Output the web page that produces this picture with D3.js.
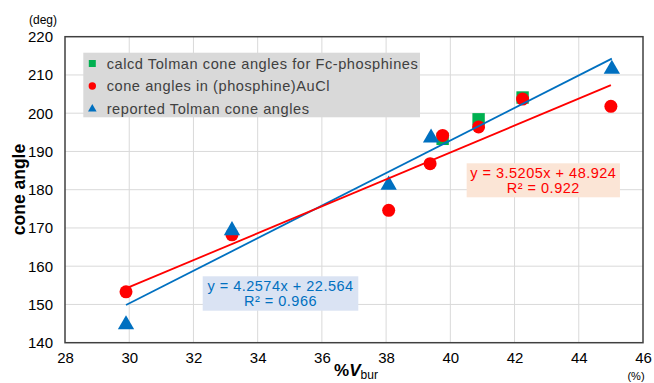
<!DOCTYPE html>
<html>
<head>
<meta charset="utf-8">
<script src="https://cdn.jsdelivr.net/npm/d3@7"></script>
<style>
  html, body { margin: 0; padding: 0; background: #fff; }
  svg { display: block; font-family: "Liberation Sans", Arial, sans-serif; }
</style>
</head>
<body>
<svg id="chart" width="654" height="383"></svg>
<script>
// ---- data ----
const xTicks = [28, 30, 32, 34, 36, 38, 40, 42, 44, 46];
const yTicks = [140, 150, 160, 170, 180, 190, 200, 210, 220];

const seriesNames = [
  "calcd Tolman cone angles for Fc-phosphines",
  "cone angles in (phosphine)AuCl",
  "reported Tolman cone angles"
];

const calcdX = [39.76, 40.88, 42.25];
const calcdY = [193.3, 198.4, 204.1];

const auclX = [29.9, 33.2, 38.08, 39.37, 39.76, 40.88, 42.25, 45.0];
const auclY = [153.3, 168.2, 174.6, 186.8, 194.2, 196.4, 203.7, 201.8];

const tolmanX = [29.9, 33.2, 38.08, 39.4, 45.03];
const tolmanY = [145.0, 169.6, 181.5, 193.8, 211.8];

const redFitLabel = ["y = 3.5205x + 48.924", "R\u00B2 = 0.922"];
const blueFitLabel = ["y = 4.2574x + 22.564", "R\u00B2 = 0.966"];
const redFitCoef = [3.5205, 48.924];
const blueFitCoef = [4.2574, 22.564];

// ---- layout ----
const svg = d3.select("#chart");
const L = 65, R = 643, T = 36.7, B = 342.7;
const x = d3.scaleLinear().domain([28, 46]).range([L, R]);
const y = d3.scaleLinear().domain([140, 220]).range([B, T]);

const COL_GREEN = "#00B050", COL_RED = "#FF0000", COL_BLUE = "#0070C0";

// gridlines
svg.append("g").selectAll("line.v").data(xTicks.slice(1, -1)).join("line")
  .attr("x1", d => x(d)).attr("x2", d => x(d)).attr("y1", T).attr("y2", B)
  .attr("stroke", "#d9d9d9").attr("stroke-width", 1);
svg.append("g").selectAll("line.h").data(yTicks.slice(1, -1)).join("line")
  .attr("x1", L).attr("x2", R).attr("y1", d => y(d)).attr("y2", d => y(d))
  .attr("stroke", "#d9d9d9").attr("stroke-width", 1);

// axes (labels only, no tick marks)
const xAxis = svg.append("g").attr("transform", `translate(0,${B})`)
  .call(d3.axisBottom(x).tickValues(xTicks).tickSize(0).tickPadding(10).tickFormat(d3.format("d")));
const yAxis = svg.append("g").attr("transform", `translate(${L},0)`)
  .call(d3.axisLeft(y).tickValues(yTicks).tickSize(0).tickPadding(12).tickFormat(d3.format("d")));
[xAxis, yAxis].forEach(a => {
  a.select(".domain").remove();
  a.selectAll("text").attr("font-size", 15).attr("fill", "#000")
    .attr("font-family", "'Liberation Sans', Arial, sans-serif");
});

// frame
svg.append("rect").attr("x", L).attr("y", T).attr("width", R - L).attr("height", B - T)
  .attr("fill", "none").attr("stroke", "#404040").attr("stroke-width", 1.5);

// markers
const tri = d3.symbol().type(d3.symbolTriangle).size(115);
svg.append("g").selectAll("rect").data(calcdX.map((v, i) => [v, calcdY[i]])).join("rect")
  .attr("x", d => x(d[0]) - 6.2).attr("y", d => y(d[1]) - 6.2)
  .attr("width", 12.4).attr("height", 12.4).attr("fill", COL_GREEN);
svg.append("g").selectAll("circle").data(auclX.map((v, i) => [v, auclY[i]])).join("circle")
  .attr("cx", d => x(d[0])).attr("cy", d => y(d[1])).attr("r", 6.5).attr("fill", COL_RED);
svg.append("g").selectAll("path").data(tolmanX.map((v, i) => [v, tolmanY[i]])).join("path")
  .attr("d", tri).attr("transform", d => `translate(${x(d[0])},${y(d[1]) + 1})`)
  .attr("fill", COL_BLUE);

// trendlines
function fitLine(xs, coef) {
  const ext = d3.extent(xs);
  return ext.map(v => [v, coef[0] * v + coef[1]]);
}
const line = d3.line().x(d => x(d[0])).y(d => y(d[1]));
svg.append("path").datum(fitLine(tolmanX, blueFitCoef)).attr("d", line)
  .attr("stroke", COL_BLUE).attr("stroke-width", 1.8).attr("fill", "none");
svg.append("path").datum(fitLine(auclX, redFitCoef)).attr("d", line)
  .attr("stroke", COL_RED).attr("stroke-width", 1.8).attr("fill", "none");

// fit labels
function fitBox(cx, top, w, h, bg, col, lines) {
  const g = svg.append("g");
  g.append("rect").attr("x", cx - w / 2).attr("y", top).attr("width", w).attr("height", h).attr("fill", bg);
  g.selectAll("text").data(lines).join("text")
    .attr("x", cx).attr("y", (d, i) => top + 14.5 + i * 15)
    .attr("text-anchor", "middle").attr("font-size", 14.5).attr("letter-spacing", 0.5)
    .attr("fill", col).text(d => d);
}
fitBox(543.3, 163.3, 153.3, 34, "#FBE5D6", COL_RED, redFitLabel);
fitBox(280.5, 276.3, 155.6, 34.4, "#DAE3F3", COL_BLUE, blueFitLabel);

// legend
const lg = svg.append("g");
lg.append("rect").attr("x", 83.3).attr("y", 52.7).attr("width", 336.7).attr("height", 64.6).attr("fill", "#D9D9D9");
const rowsY = [63.5, 86, 108.5];
lg.append("rect").attr("x", 88.8).attr("y", rowsY[0] - 3.5).attr("width", 7).attr("height", 7).attr("fill", COL_GREEN);
lg.append("circle").attr("cx", 92.3).attr("cy", rowsY[1]).attr("r", 3.7).attr("fill", COL_RED);
lg.append("path").attr("d", d3.symbol().type(d3.symbolTriangle).size(32)).attr("transform", `translate(92.3,${rowsY[2] + 0.5})`).attr("fill", COL_BLUE);
lg.selectAll("text").data(seriesNames).join("text")
  .attr("x", 106.7).attr("y", (d, i) => rowsY[i] + 5)
  .attr("font-size", 14.6).attr("letter-spacing", 0.55).attr("fill", "#404040").text(d => d);

// axis titles
svg.append("text").attr("transform", "translate(25,189.5) rotate(-90)")
  .attr("text-anchor", "middle").attr("font-size", 17.5).attr("font-weight", "bold").text("cone angle");
svg.append("text").attr("x", 43).attr("y", 24).attr("text-anchor", "middle").attr("font-size", 12).text("(deg)");

const xt = svg.append("text").attr("x", 356).attr("y", 376).attr("text-anchor", "middle").attr("font-size", 17);
xt.append("tspan").attr("font-weight", "bold").text("%");
xt.append("tspan").attr("font-weight", "bold").attr("font-style", "italic").text("V");
xt.append("tspan").attr("font-size", 12).attr("dy", 3).text("bur");
svg.append("text").attr("x", 636).attr("y", 380).attr("text-anchor", "middle").attr("font-size", 11).text("(%)");
</script>
</body>
</html>
